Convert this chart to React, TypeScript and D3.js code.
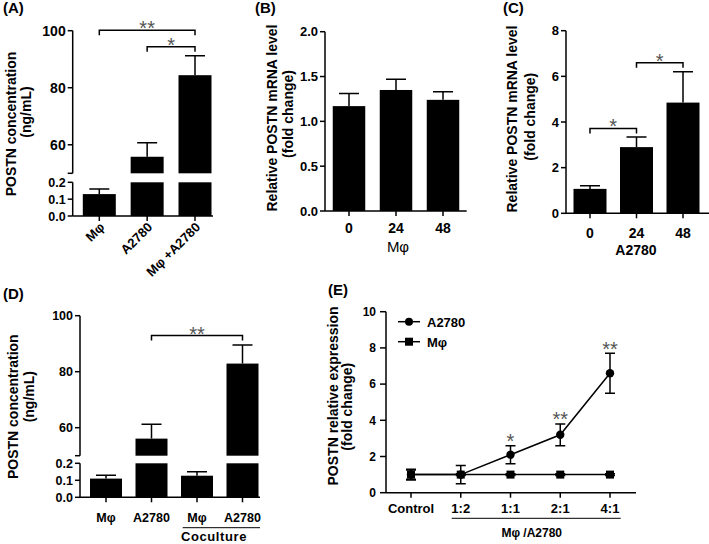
import React from 'react';
import * as d3 from 'd3';

const FONT = "'Liberation Sans', Arial, Helvetica, sans-serif";

// (A) POSTN in supernatant (ng/mL), broken axis
const aCategories = ['Mφ', 'A2780', 'Mφ +A2780'];
const aMeans = [0.13, 55.8, 84.4];
const aErrors = [0.03, 4.9, 6.8];
const aUpperTicks = [60, 80, 100];
const aLowerTicks = [0, 0.1, 0.2];
const aBrackets = [
  { from: 0, to: 2, at: 100.2, label: '**' },
  { from: 1, to: 2, at: 94.4, label: '*' },
];

// (B) Mφ mRNA fold change
const bCategories = ['0', '24', '48'];
const bMeans = [1.17, 1.35, 1.24];
const bErrors = [0.14, 0.12, 0.09];
const bTicks = [0, 0.5, 1, 1.5, 2];

// (C) A2780 mRNA fold change
const cCategories = ['0', '24', '48'];
const cMeans = [1.07, 2.9, 4.85];
const cErrors = [0.14, 0.44, 1.35];
const cTicks = [0, 2, 4, 6, 8];
const cBrackets = [
  { from: 0, to: 1, at: 3.72, label: '*' },
  { from: 1, to: 2, at: 6.6, label: '*' },
];

// (D) coculture POSTN (ng/mL), broken axis
const dCategories = ['Mφ', 'A2780', 'Mφ', 'A2780'];
const dMeans = [0.11, 56.1, 0.127, 82.9];
const dErrors = [0.02, 5.1, 0.024, 6.6];
const dUpperTicks = [60, 80, 100];
const dLowerTicks = [0, 0.1, 0.2];
const dBrackets = [{ from: 1, to: 3, at: 92.9, label: '**' }];

// (E) ratio series
const eCategories = ['Control', '1:2', '1:1', '2:1', '4:1'];
const eA2780 = [1.0, 1.0, 2.1, 3.2, 6.6];
const eA2780Err = [0.3, 0.5, 0.5, 0.6, 1.1];
const eMac = [1.0, 1.0, 1.0, 1.0, 1.0];
const eMacErr = [0.25, 0.05, 0.05, 0.05, 0.05];
const eStars = ['', '', '*', '**', '**'];
const eTicks = [0, 2, 4, 6, 8, 10];

const bold = { fontFamily: FONT, fontWeight: 700 as const };
const STAR_SIZE = 20;

function Bracket({ x1, x2, y, label }) {
  return (
    <g>
      <path d={`M${x1},${y + 5}V${y}H${x2}V${y + 5}`} fill="none" stroke="#000" strokeWidth={1.5} />
      <text x={(x1 + x2) / 2} y={y + 5} textAnchor="middle" fontFamily={FONT} fontSize={STAR_SIZE} fill="#555">
        {label}
      </text>
    </g>
  );
}

function YLabel({ x, y, text, size = 14 }) {
  return (
    <text transform={`translate(${x},${y}) rotate(-90)`} textAnchor="middle" fontSize={size} {...bold}>
      {text}
    </text>
  );
}

// bar chart with a broken y axis (0–0.2 below, 50–100 above)
function BrokenBars({ means, errs, xRange, barW, axisX, axisEnd, top, breakTop, breakBottom, bottom, upperTicks, lowerTicks, brackets, upperFont, lowerFont }) {
  const idx = d3.range(means.length);
  const x = d3.scalePoint<number>().domain(idx).range(xRange);
  const yU = d3.scaleLinear().domain([50, 100]).range([breakTop, top]);
  const yL = d3.scaleLinear().domain([0, 0.2]).range([bottom, breakBottom]);
  return (
    <g>
      {idx.map((i) => {
        const cx = x(i)!;
        const m = means[i];
        const big = m > 0.2;
        const yTop = big ? yU(m) : yL(m);
        const yErr = big ? yU(m + errs[i]) : yL(m + errs[i]);
        return (
          <g key={i}>
            {big ? (
              <>
                <rect x={cx - barW / 2} y={yL(0.2)} width={barW} height={bottom - yL(0.2)} fill="#000" />
                <rect x={cx - barW / 2} y={yTop} width={barW} height={breakTop - yTop} fill="#000" />
              </>
            ) : (
              <rect x={cx - barW / 2} y={yTop} width={barW} height={bottom - yTop} fill="#000" />
            )}
            <path d={`M${cx},${yTop}V${yErr}M${cx - 10},${yErr}H${cx + 10}`} stroke="#000" strokeWidth={1.5} fill="none" />
            <line x1={cx} x2={cx} y1={bottom} y2={bottom + 5} stroke="#000" strokeWidth={1.5} />
          </g>
        );
      })}
      <line x1={axisX} x2={axisX} y1={top} y2={breakTop} stroke="#000" strokeWidth={1.5} />
      <line x1={axisX - 5} x2={axisX} y1={breakTop} y2={breakTop} stroke="#000" strokeWidth={1.5} />
      <line x1={axisX} x2={axisX} y1={breakBottom} y2={bottom} stroke="#000" strokeWidth={1.5} />
      <line x1={axisX} x2={axisEnd} y1={bottom} y2={bottom} stroke="#000" strokeWidth={1.5} />
      {upperTicks.map((t) => (
        <g key={'u' + t}>
          <line x1={axisX - 5} x2={axisX} y1={yU(t)} y2={yU(t)} stroke="#000" strokeWidth={1.5} />
          <text x={axisX - 7} y={yU(t)} dy="0.36em" textAnchor="end" fontSize={upperFont} {...bold}>{t}</text>
        </g>
      ))}
      {lowerTicks.map((t) => (
        <g key={'l' + t}>
          <line x1={axisX - 5} x2={axisX} y1={yL(t)} y2={yL(t)} stroke="#000" strokeWidth={1.5} />
          <text x={axisX - 7} y={yL(t)} dy="0.36em" textAnchor="end" fontSize={lowerFont} {...bold}>{d3.format('.1f')(t)}</text>
        </g>
      ))}
      {brackets.map((b, k) => (
        <Bracket key={k} x1={x(b.from)!} x2={x(b.to)!} y={yU(b.at)} label={b.label} />
      ))}
    </g>
  );
}

function Bars({ cats, means, errs, xRange, barW, axisX, axisEnd, top, bottom, domain, ticks, fmt, brackets, labelY }) {
  const idx = d3.range(means.length);
  const x = d3.scalePoint<number>().domain(idx).range(xRange);
  const y = d3.scaleLinear().domain(domain).range([bottom, top]);
  return (
    <g>
      {idx.map((i) => {
        const cx = x(i)!;
        const yTop = y(means[i]);
        const yErr = y(means[i] + errs[i]);
        return (
          <g key={i}>
            <rect x={cx - barW / 2} y={yTop} width={barW} height={bottom - yTop} fill="#000" />
            <path d={`M${cx},${yTop}V${yErr}M${cx - 10},${yErr}H${cx + 10}`} stroke="#000" strokeWidth={1.5} fill="none" />
            <line x1={cx} x2={cx} y1={bottom} y2={bottom + 5} stroke="#000" strokeWidth={1.5} />
            <text x={cx} y={labelY} textAnchor="middle" fontSize={14} {...bold}>{cats[i]}</text>
          </g>
        );
      })}
      <line x1={axisX} x2={axisX} y1={top} y2={bottom} stroke="#000" strokeWidth={1.5} />
      <line x1={axisX} x2={axisEnd} y1={bottom} y2={bottom} stroke="#000" strokeWidth={1.5} />
      {ticks.map((t) => (
        <g key={t}>
          <line x1={axisX - 5} x2={axisX} y1={y(t)} y2={y(t)} stroke="#000" strokeWidth={1.5} />
          <text x={axisX - 7} y={y(t)} dy="0.36em" textAnchor="end" fontSize={13} {...bold}>{fmt(t)}</text>
        </g>
      ))}
      {(brackets || []).map((b, k) => (
        <Bracket key={k} x1={x(b.from)!} x2={x(b.to)!} y={y(b.at)} label={b.label} />
      ))}
    </g>
  );
}

function LinePanel() {
  const axisX = 386;
  const top = 311.7;
  const bottom = 492.7;
  const x = d3.scalePoint<string>().domain(eCategories).range([411, 610]);
  const y = d3.scaleLinear().domain([0, 10]).range([bottom, top]);
  const line = d3.line<number>().x((_, i) => x(eCategories[i])!).y((d) => y(d));
  const errBar = (cx, m, e, k) => (
    <path key={k} d={`M${cx},${y(m - e)}V${y(m + e)}M${cx - 5},${y(m - e)}H${cx + 5}M${cx - 5},${y(m + e)}H${cx + 5}`} stroke="#000" strokeWidth={1.5} fill="none" />
  );
  return (
    <g>
      <line x1={axisX} x2={axisX} y1={top} y2={bottom} stroke="#000" strokeWidth={1.5} />
      <line x1={axisX} x2={636} y1={bottom} y2={bottom} stroke="#000" strokeWidth={1.5} />
      {eTicks.map((t) => (
        <g key={t}>
          <line x1={axisX - 6} x2={axisX} y1={y(t)} y2={y(t)} stroke="#000" strokeWidth={1.5} />
          <text x={axisX - 10} y={y(t)} dy="0.36em" textAnchor="end" fontSize={12} {...bold}>{t}</text>
        </g>
      ))}
      {eCategories.map((c) => (
        <g key={c}>
          <line x1={x(c)} x2={x(c)} y1={bottom} y2={bottom + 5} stroke="#000" strokeWidth={1.5} />
          <text x={x(c)} y={513} textAnchor="middle" fontSize={13} {...bold}>{c}</text>
        </g>
      ))}
      <path d={line(eMac)!} fill="none" stroke="#000" strokeWidth={1.5} />
      <path d={line(eA2780)!} fill="none" stroke="#000" strokeWidth={1.5} />
      {eMac.map((m, i) => errBar(x(eCategories[i])!, m, eMacErr[i], 'me' + i))}
      {eA2780.map((m, i) => errBar(x(eCategories[i])!, m, eA2780Err[i], 'ae' + i))}
      {eMac.map((m, i) => (
        <rect key={'ms' + i} x={x(eCategories[i])! - 4} y={y(m) - 4} width={8} height={8} fill="#000" />
      ))}
      {eA2780.map((m, i) => (
        <circle key={'ac' + i} cx={x(eCategories[i])!} cy={y(m)} r={4.2} fill="#000" />
      ))}
      {eStars.map((s, i) =>
        s ? (
          <text key={'st' + i} x={x(eCategories[i])!} y={y(eA2780[i] + eA2780Err[i]) + 2.5} textAnchor="middle" fontFamily={FONT} fontSize={STAR_SIZE} fill="#555">{s}</text>
        ) : null
      )}
      {/* legend */}
      <line x1={398} x2={420} y1={321.7} y2={321.7} stroke="#000" strokeWidth={1.5} />
      <circle cx={409} cy={321.7} r={4} fill="#000" />
      <text x={427} y={326.5} fontSize={13} {...bold}>A2780</text>
      <line x1={398} x2={420} y1={341.7} y2={341.7} stroke="#000" strokeWidth={1.5} />
      <rect x={405} y={337.7} width={8} height={8} fill="#000" />
      <text x={427} y={346.5} fontSize={13} {...bold}>Mφ</text>
      <line x1={451.7} x2={620.7} y1={518.3} y2={518.3} stroke="#000" strokeWidth={1} />
      <text x={531.7} y={537} textAnchor="middle" fontSize={12} {...bold}>Mφ /A2780</text>
    </g>
  );
}

export default function App() {
  const aX = d3.scalePoint<number>().domain(d3.range(aCategories.length)).range([99.3, 195]);
  const dX = d3.scalePoint<number>().domain(d3.range(dCategories.length)).range([106, 242.5]);
  return (
    <svg width={709} height={544} style={{ position: 'absolute', left: 0, top: 0, background: '#fff' }}>
      <rect width={709} height={544} fill="#fff" />
      {/* (A) */}
      <text x={3} y={13} fontSize={15} {...bold}>(A)</text>
      <YLabel x={16} y={124} text="POSTN concentration" />
      <YLabel x={31} y={112} text="(ng/mL)" />
      <BrokenBars means={aMeans} errs={aErrors} xRange={[99.3, 195]} barW={33} axisX={72.7} axisEnd={213}
        top={30.7} breakTop={173.3} breakBottom={182.3} bottom={216}
        upperTicks={aUpperTicks} lowerTicks={aLowerTicks} brackets={aBrackets} upperFont={14} lowerFont={12.5} />
      {aCategories.map((c, i) => (
        <text key={c} transform={`translate(${aX(i)! + 6},${228}) rotate(-45)`} textAnchor="end" fontSize={13} {...bold}>{c}</text>
      ))}

      {/* (B) */}
      <text x={255} y={13} fontSize={15} {...bold}>(B)</text>
      <YLabel x={277} y={118} text="Relative POSTN mRNA level" />
      <YLabel x={293} y={114} text="(fold change)" />
      <Bars cats={bCategories} means={bMeans} errs={bErrors} xRange={[349, 443]} barW={32.5} axisX={325} axisEnd={466.7}
        top={31.7} bottom={211} domain={[0, 2]} ticks={bTicks} fmt={d3.format('.1f')} brackets={null} labelY={233} />
      <text x={398} y={252} textAnchor="middle" fontSize={15} fontFamily={FONT}>Mφ</text>

      {/* (C) */}
      <text x={503} y={13} fontSize={15} {...bold}>(C)</text>
      <YLabel x={517} y={119} text="Relative POSTN mRNA level" />
      <YLabel x={535} y={116.7} text="(fold change)" />
      <Bars cats={cCategories} means={cMeans} errs={cErrors} xRange={[590, 683]} barW={33} axisX={566} axisEnd={709}
        top={30.7} bottom={213.3} domain={[0, 8]} ticks={cTicks} fmt={(d) => d} brackets={cBrackets} labelY={238} />
      <text x={636} y={254.5} textAnchor="middle" fontSize={14} {...bold}>A2780</text>

      {/* (D) */}
      <text x={3} y={299} fontSize={15} {...bold}>(D)</text>
      <YLabel x={18} y={406.7} text="POSTN concentration" />
      <YLabel x={34} y={396.7} text="(ng/mL)" />
      <BrokenBars means={dMeans} errs={dErrors} xRange={[106, 242.5]} barW={32} axisX={80} axisEnd={260}
        top={315.7} breakTop={455.7} breakBottom={463.3} bottom={497.3}
        upperTicks={dUpperTicks} lowerTicks={dLowerTicks} brackets={dBrackets} upperFont={12.5} lowerFont={12.5} />
      {dCategories.map((c, i) => (
        <text key={i} x={dX(i)!} y={522} textAnchor="middle" fontSize={12.5} {...bold}>{c}</text>
      ))}
      <line x1={182.7} x2={260} y1={527.7} y2={527.7} stroke="#000" strokeWidth={1} />
      <text x={214} y={541} textAnchor="middle" fontSize={13} letterSpacing={0.6} {...bold}>Coculture</text>

      {/* (E) */}
      <text x={328} y={295} fontSize={15} {...bold}>(E)</text>
      <YLabel x={338} y={396} text="POSTN relative expression" />
      <YLabel x={352} y={406.7} text="(fold change)" />
      <LinePanel />
    </svg>
  );
}
